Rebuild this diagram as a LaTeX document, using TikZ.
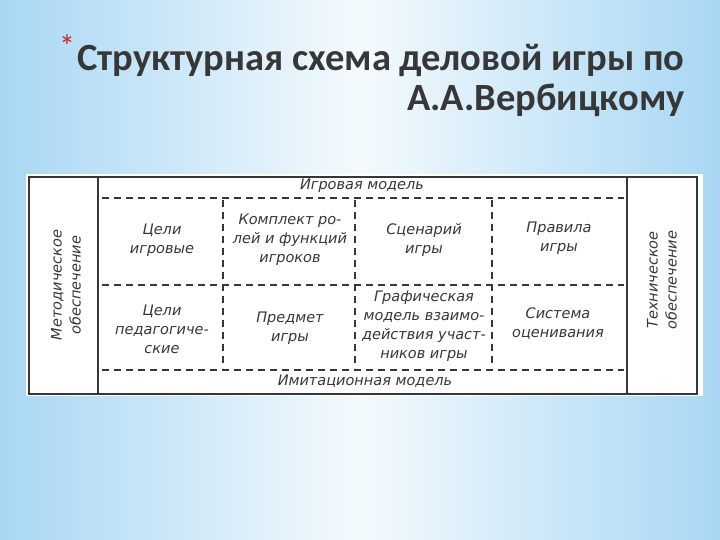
\documentclass[tikz,border=0pt]{standalone}
\usepackage{fontspec}
\setmainfont{Liberation Sans}
\newfontfamily\titlefont{Carlito}
\newfontfamily\scanfont{DejaVu Sans}
\usepackage{xcolor}
\usepackage{tikz}

\definecolor{slideblue}{RGB}{168,215,244}
\definecolor{slidewhite}{RGB}{244,250,253}
\definecolor{inkgray}{RGB}{55,55,55}
\definecolor{titlegray}{RGB}{55,55,55}
\definecolor{starred}{RGB}{200,40,30}

\tikzset{
  cell/.style={align=center, text=inkgray, inner sep=0pt,
    font=\scanfont\itshape\fontsize{14.5}{19}\selectfont},
  bandlabel/.style={text=inkgray, inner sep=0pt,
    font=\scanfont\itshape\fontsize{14.5}{16}\selectfont},
  sidelabel/.style={cell, rotate=90},
  solidline/.style={inkgray, line width=1.6pt},
  dashline/.style={inkgray, line width=1.2pt, dash pattern=on 7pt off 5pt},
  titletext/.style={anchor=base east, text=titlegray,
    font=\titlefont\bfseries\fontsize{38.5}{38.5}\selectfont},
}

\begin{document}
\begin{tikzpicture}[x=1pt,y=-1pt]
    \useasboundingbox (0,0) rectangle (720,540);
    \shade[left color=slideblue, right color=slideblue, middle color=slidewhite]
      (0,0) rectangle (720,540);

    % title
    \node[text=starred, font=\titlefont\fontsize{32}{32}\selectfont] (star) at (67,46) {*};
    \node[titletext] (title1) at (688,71) {Структурная схема деловой игры по};
    \node[titletext] (title2) at (688,111) {А.А.Вербицкому};

    % scanned table
    \fill[white] (26,174) rectangle (703,396);
    \draw[solidline] (29,177) rectangle (697,394);
    \draw[solidline] (98,177) -- (98,394);
    \draw[solidline] (627,177) -- (627,394);

    \foreach \y in {198,285,370}
      \draw[dashline] (102,\y) -- (624,\y);
    \foreach \x in {223,355,492}
      \draw[dashline] (\x,200) -- (\x,368);

    \node[bandlabel] (igrovaya) at (362,186) {Игровая модель};
    \node[bandlabel] (imitac) at (365,381) {Имитационная модель};
    \node[sidelabel] (metod) at (66,285) {Методическое\\обеспечение};
    \node[sidelabel] (tehn) at (662,280) {Техническое\\обеспечение};

    \node[cell] (celi1) at (162,240) {Цели\\игровые};
    \node[cell] (komplekt) at (290,240) {Комплект ро-\\лей и функций\\игроков};
    \node[cell] (scenariy) at (424,240) {Сценарий\\игры};
    \node[cell] (pravila) at (559,238) {Правила\\игры};
    \node[cell] (celi2) at (162,329) {Цели\\педагогиче-\\ские};
    \node[cell] (predmet) at (290,328) {Предмет\\игры};
    \node[cell] (grafmodel) at (424,326) {Графическая\\модель взаимо-\\действия участ-\\ников игры};
    \node[cell] (sistema) at (558,324) {Система\\оценивания};
  \end{tikzpicture}
\end{document}
